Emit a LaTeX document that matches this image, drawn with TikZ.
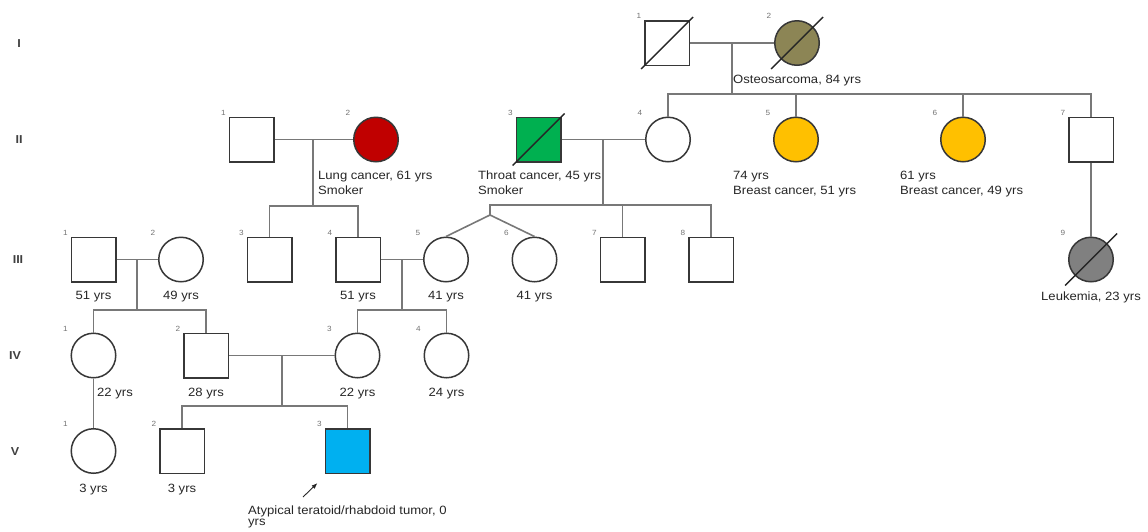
\documentclass[tikz,border=0pt]{standalone}
\usepackage{fontspec}
\setmainfont{Liberation Sans}[FakeStretch=1.09]
\usetikzlibrary{calc,arrows.meta}

\definecolor{osteo}{RGB}{140,133,85}
\definecolor{lungred}{RGB}{192,0,0}
\definecolor{throatgreen}{RGB}{0,176,80}
\definecolor{breastgold}{RGB}{255,192,0}
\definecolor{leukgray}{RGB}{128,128,128}
\definecolor{atrtblue}{RGB}{0,176,240}
\definecolor{linegray}{RGB}{120,120,120}
\definecolor{outline}{RGB}{55,55,55}

\begin{document}
\begin{tikzpicture}[x=1pt,y=-1pt,
  male/.style={rectangle, draw=outline, line width=1.5pt, minimum size=44.5pt, inner sep=0pt},
  female/.style={circle, draw=outline, line width=1.5pt, minimum size=44.5pt, inner sep=0pt},
  con/.style={draw=linegray, line width=1.6pt},
  slash/.style={draw=black!85, line width=1.4pt},
  num/.style={font=\fontsize{7.5}{8}\selectfont, text=black!55, inner sep=0pt},
  txt/.style={font=\fontsize{12}{15}\selectfont, text=black!85, inner sep=0pt, align=left},
  gen/.style={font=\bfseries\fontsize{11.5}{12}\selectfont, text=black!75, inner sep=0pt}]
\useasboundingbox (0,0) rectangle (1148,531);

% generation numerals
\node[gen] (gI)   at (19,44)  {I};
\node[gen] (gII)  at (19,140) {II};
\node[gen] (gIII) at (18,260) {III};
\node[gen] (gIV)  at (15,356) {IV};
\node[gen] (gV)   at (15,452) {V};

% generation I
\node[male] (I1) at (667,43) {};
\node[female, fill=osteo] (I2) at (797,43) {};
% generation II
\node[male] (II1) at (251.5,139.5) {};
\node[female, fill=lungred] (II2) at (376,139.5) {};
\node[male, fill=throatgreen] (II3) at (538.5,139.5) {};
\node[female] (II4) at (668,139.5) {};
\node[female, fill=breastgold] (II5) at (796,139.5) {};
\node[female, fill=breastgold] (II6) at (963,139.5) {};
\node[male] (II7) at (1091,139.5) {};
% generation III
\node[male] (III1) at (93.5,259.5) {};
\node[female] (III2) at (181,259.5) {};
\node[male] (III3) at (269.5,259.5) {};
\node[male] (III4) at (358,259.5) {};
\node[female] (III5) at (446,259.5) {};
\node[female] (III6) at (534.5,259.5) {};
\node[male] (III7) at (622.5,259.5) {};
\node[male] (III8) at (711,259.5) {};
\node[female, fill=leukgray] (III9) at (1091,259.5) {};
% generation IV
\node[female] (IV1) at (93.5,355.5) {};
\node[male] (IV2) at (206,355.5) {};
\node[female] (IV3) at (357.5,355.5) {};
\node[female] (IV4) at (446.5,355.5) {};
% generation V
\node[female] (V1) at (93.5,451) {};
\node[male] (V2) at (182,451) {};
\node[male, fill=atrtblue] (V3) at (347.5,451) {};

% individual numbers
\foreach \p/\t in {I1/1,I2/2,II1/1,II2/2,II3/3,II4/4,II5/5,II6/6,II7/7,
  III1/1,III2/2,III3/3,III4/4,III5/5,III6/6,III7/7,III8/8,III9/9,
  IV1/1,IV2/2,IV3/3,IV4/4,V1/1,V2/2,V3/3}
  \node[num] (n\p) at ($(\p)+(-28,-27)$) {\t};

% deceased
\foreach \p in {I1,I2,II3,III9}
  \draw[slash] ($(\p)+(-26,26)$) -- ($(\p)+(26,-26)$);

% generation I family
\coordinate (mI) at (732,43);
\coordinate (sI) at (732,94);
\draw[con] (I1.east) -- (I2.west);
\draw[con] (mI) -- (sI);
\draw[con] (II4.north) |- (sI) -| (II7.north);
\draw[con] (II5.north) -- (II5.north |- sI);
\draw[con] (II6.north) -- (II6.north |- sI);

% II-1 x II-2
\coordinate (mA) at (313,139.5);
\coordinate (sA) at (313,206);
\draw[con] (II1.east) -- (II2.west);
\draw[con] (mA) -- (sA);
\draw[con] (III3.north) |- (sA) -| (III4.north);

% II-3 x II-4, with twin daughters
\coordinate (mB) at (603,139.5);
\coordinate (sB) at (603,205);
\coordinate (tw) at (490,215);
\draw[con] (II3.east) -- (II4.west);
\draw[con] (mB) -- (sB);
\draw[con] (tw) |- (sB) -| (III8.north);
\draw[con] (III7.north) -- (III7.north |- sB);
\draw[con] (III5.north) -- (tw) -- (III6.north);

% II-7 to III-9
\draw[con] (II7.south) -- (III9.north);

% III-1 x III-2
\coordinate (mC) at (137,259.5);
\coordinate (sC) at (137,310);
\draw[con] (III1.east) -- (III2.west);
\draw[con] (mC) -- (sC);
\draw[con] (IV1.north) |- (sC) -| (IV2.north);

% III-4 x III-5
\coordinate (mD) at (402,259.5);
\coordinate (sD) at (402,310);
\draw[con] (III4.east) -- (III5.west);
\draw[con] (mD) -- (sD);
\draw[con] (IV3.north) |- (sD) -| (IV4.north);

% IV-2 x IV-3
\coordinate (mE) at (282,355.5);
\coordinate (sE) at (282,406);
\draw[con] (IV2.east) -- (IV3.west);
\draw[con] (mE) -- (sE);
\draw[con] (V2.north) |- (sE) -| (V3.north);

% IV-1 to V-1
\draw[con] (IV1.south) -- (V1.north);

% proband arrow
\coordinate (arrT) at (303,497);
\draw[-{Latex[length=6pt,width=4.5pt]}, line width=0.9pt, black!85] (arrT) -- ($(V3.south west)+(-7,9)$);

% annotations (base anchor sits on the last line of a two-line label)
\node[txt, anchor=base west] (lI2)   at (733,83.5) {Osteosarcoma, 84 yrs};
\node[txt, anchor=base west] (lII2)  at (318,194) {Lung cancer, 61 yrs\\Smoker};
\node[txt, anchor=base west] (lII3)  at (478,194) {Throat cancer, 45 yrs\\Smoker};
\node[txt, anchor=base west] (lII5)  at (733,194) {74 yrs\\Breast cancer, 51 yrs};
\node[txt, anchor=base west] (lII6)  at (900,194) {61 yrs\\Breast cancer, 49 yrs};
\node[txt, anchor=base] (lIII9) at ($(III9.south)+(0,18)$) {Leukemia, 23 yrs};

\node[txt, anchor=base] (lIII1) at ($(III1.south)+(0,17)$) {51 yrs};
\node[txt, anchor=base] (lIII2) at ($(III2.south)+(0,17)$) {49 yrs};
\node[txt, anchor=base] (lIII4) at ($(III4.south)+(0,17)$) {51 yrs};
\node[txt, anchor=base] (lIII5) at ($(III5.south)+(0,17)$) {41 yrs};
\node[txt, anchor=base] (lIII6) at ($(III6.south)+(0,17)$) {41 yrs};

\node[txt, anchor=base west] (lIV1) at ($(IV1.south)+(3.5,18)$) {22 yrs};
\node[txt, anchor=base] (lIV2) at ($(IV2.south)+(0,18)$) {28 yrs};
\node[txt, anchor=base] (lIV3) at ($(IV3.south)+(0,18)$) {22 yrs};
\node[txt, anchor=base] (lIV4) at ($(IV4.south)+(0,18)$) {24 yrs};

\node[txt, anchor=base] (lV1) at ($(V1.south)+(0,18)$) {3 yrs};
\node[txt, anchor=base] (lV2) at ($(V2.south)+(0,18)$) {3 yrs};
\node[txt, anchor=base west, font=\fontsize{12}{11}\selectfont] (lV3) at (248,525)
  {Atypical teratoid/rhabdoid tumor, 0\\yrs};
\end{tikzpicture}
\end{document}
